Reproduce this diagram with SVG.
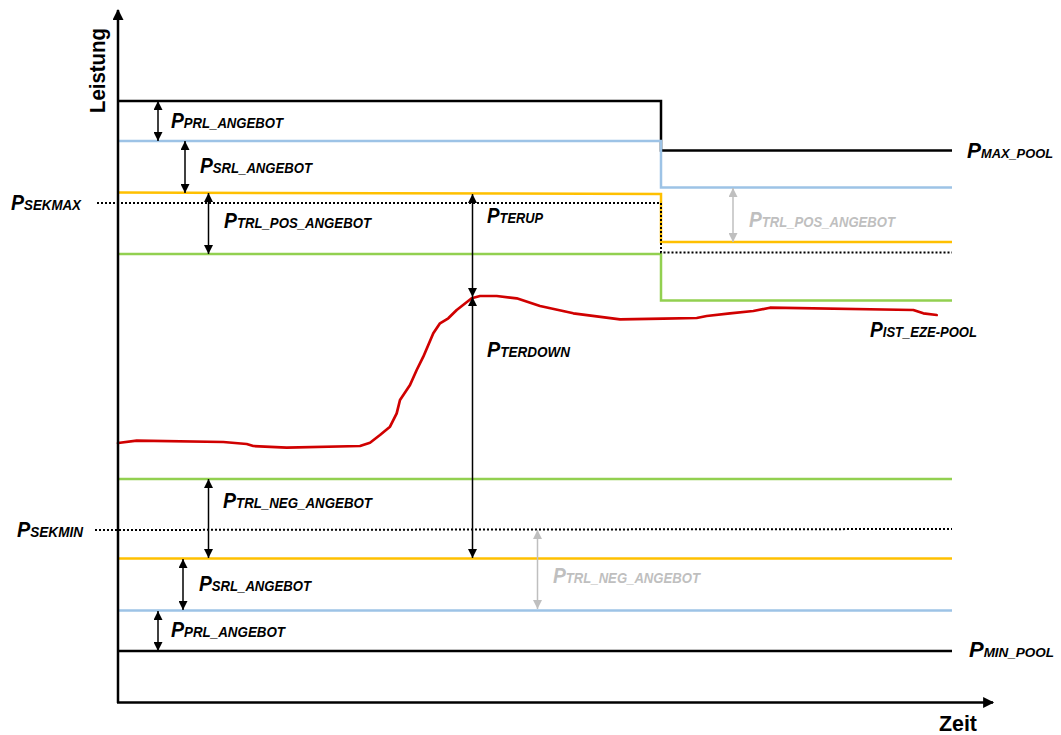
<svg xmlns="http://www.w3.org/2000/svg" width="1061" height="735" viewBox="0 0 1061 735">
<defs>
<style>
.bg{fill:#ffffff}
.ax{stroke:#000;stroke-width:2.5;fill:none}
.blk{stroke:#000;stroke-width:2.5;fill:none}
.blue{stroke:#9DC3E6;stroke-width:2.5;fill:none}
.yel{stroke:#FFC000;stroke-width:2.5;fill:none}
.grn{stroke:#92D050;stroke-width:2.5;fill:none}
.dot{stroke:#000;stroke-width:2;stroke-dasharray:2 2;fill:none}
.red{stroke:#D00000;stroke-width:2.7;fill:none;stroke-linejoin:round;stroke-linecap:round}
.arr{stroke:#000;stroke-width:1.5;marker-start:url(#ah);marker-end:url(#ah)}
.garr{stroke:#BFBFBF;stroke-width:1.5;marker-start:url(#gh);marker-end:url(#gh)}
text{font-family:"Liberation Sans",Arial,sans-serif;font-weight:bold;font-style:italic;fill:#000}
.g{fill:#BFBFBF}
.big{font-size:22px}
.sub{font-size:15px}
.subs{font-size:13.5px}
.axl{font-style:normal;font-size:22px}
</style>
<marker id="ah" viewBox="0 0 10 10" refX="10" refY="5" markerWidth="9" markerHeight="9" markerUnits="userSpaceOnUse" orient="auto-start-reverse"><path d="M0,0 L10,5 L0,10 z" fill="#000"/></marker>
<marker id="gh" viewBox="0 0 10 10" refX="10" refY="5" markerWidth="9" markerHeight="9" markerUnits="userSpaceOnUse" orient="auto-start-reverse"><path d="M0,0 L10,5 L0,10 z" fill="#BFBFBF"/></marker>
<marker id="axh" viewBox="0 0 10 10" refX="9" refY="5" markerWidth="12" markerHeight="11" markerUnits="userSpaceOnUse" orient="auto"><path d="M0,0 L10,5 L0,10 z" fill="#000"/></marker>
</defs>
<rect class="bg" x="0" y="0" width="1061" height="735"/>

<g id="levels">
<polyline class="blk" points="118,101 661,101 661,150.5 952,150.5"/>
<polyline class="blue" points="118,141 661,141 661,187.5 952,187.5"/>
<polyline class="yel" points="118,192.5 661,194 661,242 952,242"/>
<polyline class="grn" points="118,254 661,254 661,300.5 952,300.5"/>
<polyline class="dot" points="97,203 661,203 661,252.5 952,252.5"/>
<line class="grn" x1="118" y1="479" x2="952" y2="479"/>
<line class="dot" x1="95" y1="530" x2="952" y2="529"/>
<line class="yel" x1="118" y1="558.5" x2="952" y2="558.5"/>
<line class="blue" x1="118" y1="610.5" x2="952" y2="610.5"/>
<line class="blk" x1="118" y1="651" x2="952" y2="651"/>
</g>

<g id="ist-curve">
<polyline class="red" points="118,443 136.7,440.7 223.3,442 246.7,444 253.3,446 286.7,447.7 360,446 370,442.7 380,435 390,426.7 396.7,413.3 400,400 410,385 416.7,370 423.3,356.7 433.3,333.3 440,323.3 448.3,318.3 456.7,310 471.7,298.3 480,296 496.7,296 516.7,298.3 540,306 573.3,313.3 620,319.3 663.3,318.7 696.7,318 706.7,316 730,313.3 753.3,311 770,307.7 913.3,310 923.3,313.3 936.7,315"/>
</g>

<g id="axes">
<line class="ax" x1="118" y1="703" x2="118" y2="10" marker-end="url(#axh)"/>
<line class="ax" x1="117" y1="702.5" x2="993" y2="702.5" marker-end="url(#axh)"/>
<text class="axl" transform="translate(105,113) rotate(-90)" textLength="85" lengthAdjust="spacingAndGlyphs">Leistung</text>
<text class="axl" x="939" y="731" textLength="38" lengthAdjust="spacingAndGlyphs">Zeit</text>
</g>

<g id="connectors">
<line class="arr" x1="158" y1="101" x2="158" y2="141"/>
<line class="arr" x1="185" y1="141" x2="185" y2="193"/>
<line class="arr" x1="208.5" y1="193" x2="208.5" y2="254"/>
<line class="arr" x1="472.5" y1="194" x2="472.5" y2="297"/>
<line class="arr" x1="472.5" y1="297" x2="472.5" y2="558"/>
<line class="garr" x1="733" y1="188" x2="733" y2="242"/>
<line class="arr" x1="208.5" y1="479" x2="208.5" y2="558"/>
<line class="arr" x1="183" y1="559" x2="183" y2="610"/>
<line class="arr" x1="158" y1="611" x2="158" y2="651"/>
<line class="garr" x1="537.5" y1="530" x2="537.5" y2="609"/>
</g>

<g id="labels">
<text id="l-prl-top" x="171" y="128" textLength="112" lengthAdjust="spacingAndGlyphs"><tspan class="big">P</tspan><tspan class="sub">PRL_ANGEBOT</tspan></text>
<text id="l-srl-top" x="200" y="173" textLength="112" lengthAdjust="spacingAndGlyphs"><tspan class="big">P</tspan><tspan class="sub">SRL_ANGEBOT</tspan></text>
<text id="l-trl-pos" x="224" y="228" textLength="147" lengthAdjust="spacingAndGlyphs"><tspan class="big">P</tspan><tspan class="sub">TRL_POS_ANGEBOT</tspan></text>
<text id="l-terup" x="487" y="223" textLength="56" lengthAdjust="spacingAndGlyphs"><tspan class="big">P</tspan><tspan class="sub">TERUP</tspan></text>
<text id="l-terdown" x="487" y="357" textLength="83" lengthAdjust="spacingAndGlyphs"><tspan class="big">P</tspan><tspan class="sub">TERDOWN</tspan></text>
<text id="l-maxpool" x="967" y="158" textLength="86" lengthAdjust="spacingAndGlyphs"><tspan class="big">P</tspan><tspan class="subs">MAX_POOL</tspan></text>
<text id="l-trl-pos-g" class="g" x="749" y="227" textLength="146" lengthAdjust="spacingAndGlyphs"><tspan class="big g">P</tspan><tspan class="sub g">TRL_POS_ANGEBOT</tspan></text>
<text id="l-ist" x="870" y="337" textLength="107" lengthAdjust="spacingAndGlyphs"><tspan class="big">P</tspan><tspan class="sub">IST_EZE-POOL</tspan></text>
<text id="l-sekmax" x="11" y="210" textLength="70" lengthAdjust="spacingAndGlyphs"><tspan class="big">P</tspan><tspan class="sub">SEKMAX</tspan></text>
<text id="l-sekmin" x="17" y="537" textLength="66" lengthAdjust="spacingAndGlyphs"><tspan class="big">P</tspan><tspan class="sub">SEKMIN</tspan></text>
<text id="l-trl-neg" x="223" y="508" textLength="149" lengthAdjust="spacingAndGlyphs"><tspan class="big">P</tspan><tspan class="sub">TRL_NEG_ANGEBOT</tspan></text>
<text id="l-srl-bot" x="199" y="591" textLength="112" lengthAdjust="spacingAndGlyphs"><tspan class="big">P</tspan><tspan class="sub">SRL_ANGEBOT</tspan></text>
<text id="l-prl-bot" x="171" y="637" textLength="114" lengthAdjust="spacingAndGlyphs"><tspan class="big">P</tspan><tspan class="sub">PRL_ANGEBOT</tspan></text>
<text id="l-trl-neg-g" class="g" x="553" y="583" textLength="147" lengthAdjust="spacingAndGlyphs"><tspan class="big g">P</tspan><tspan class="sub g">TRL_NEG_ANGEBOT</tspan></text>
<text id="l-minpool" x="969" y="657" textLength="85" lengthAdjust="spacingAndGlyphs"><tspan class="big">P</tspan><tspan class="subs">MIN_POOL</tspan></text>
</g>
</svg>
